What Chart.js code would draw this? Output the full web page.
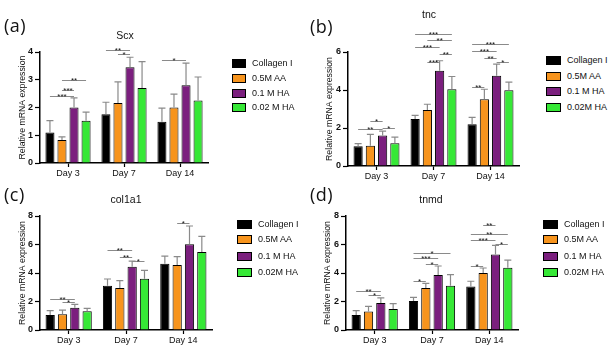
<!DOCTYPE html>
<html>
<head>
<meta charset="utf-8">
<script src="https://cdn.jsdelivr.net/npm/chart.js@4.4.1/dist/chart.umd.min.js"></script>
<style>
  body { margin: 0; width: 616px; height: 352px; background: #fff; position: relative; overflow: hidden; font-family: 'Liberation Sans', Arial, sans-serif; }
  canvas { position: absolute; }
  .lbl { position: absolute; font-family: 'Open Sans', sans-serif; font-size: 18px; color: #111; letter-spacing: 0.5px; }
  .ttl { position: absolute; font-size: 10.5px; color: #111; transform: translate(-50%, -50%); white-space: nowrap; }
  .box { position: absolute; box-sizing: border-box; border: 1.5px solid #000; }
  .txt { position: absolute; font-size: 9px; color: #111; white-space: nowrap; transform: translateY(-50%); }
</style>
</head>
<body>
<script>
// categories
const days = ['Day 3', 'Day 7', 'Day 14'];
const namesA = ['Collagen I', '0.5M AA', '0.1 M HA', '0.02 M HA'];
const namesB = ['Collagen I', '0.5M AA', '0.1 M HA', '0.02M HA'];

// (a) Scx: means and SD per group (Collagen I, 0.5M AA, 0.1 M HA, 0.02 M HA)
const scxMeans = [[1.10, 1.76, 1.49], [0.83, 2.16, 2.00], [2.00, 3.45, 2.80], [1.52, 2.70, 2.25]];
const scxSD = [[0.43, 0.43, 0.49], [0.11, 0.76, 0.48], [0.35, 0.36, 0.80], [0.31, 0.95, 0.85]];
// significance: [day, from group, to group, height, stars]
const scxSig = [[0, 0, 2, 2.43, '***'], [0, 1, 2, 2.64, '***'], [0, 1, 3, 2.98, '**'],
                [1, 0, 2, 4.08, '**'], [1, 1, 2, 3.94, '*'], [2, 0, 2, 3.70, '*']];

// (b) tnc
const tncMeans = [[1.04, 2.47, 2.20], [1.06, 2.95, 3.51], [1.61, 5.01, 4.75], [1.20, 4.04, 3.99]];
const tncSD = [[0.14, 0.19, 0.36], [0.60, 0.30, 0.53], [0.23, 0.53, 0.61], [0.32, 0.67, 0.42]];
const tncSig = [[0, 1, 2, 2.36, '*'], [0, 0, 2, 1.94, '**'], [0, 2, 3, 1.98, '*'],
                [1, 0, 3, 6.97, '***'], [1, 1, 3, 6.62, '**'], [1, 0, 2, 6.25, '***'], [1, 2, 3, 5.89, '**'], [1, 1, 2, 5.50, '***'],
                [2, 0, 3, 6.42, '***'], [2, 0, 2, 6.03, '***'], [2, 1, 2, 5.68, '**'], [2, 2, 3, 5.49, '*'], [2, 0, 1, 4.15, '**']];

// (c) col1a1
const colMeans = [[1.05, 3.11, 4.65], [1.10, 2.95, 4.56], [1.57, 4.44, 6.01], [1.31, 3.60, 5.47]];
const colSD = [[0.31, 0.47, 0.54], [0.30, 0.51, 0.59], [0.23, 0.40, 1.29], [0.21, 0.59, 1.10]];
const colSig = [[0, 0, 2, 2.20, '**'], [0, 1, 2, 1.96, '*'],
                [1, 0, 2, 5.60, '**'], [1, 1, 2, 5.15, '**'], [1, 2, 3, 4.84, '*'], [2, 1, 2, 7.53, '*']];

// (d) tnmd
const tnmdMeans = [[1.05, 2.04, 3.06], [1.29, 2.95, 4.00], [1.89, 3.86, 5.29], [1.47, 3.11, 4.37]];
const tnmdSD = [[0.31, 0.25, 0.36], [0.37, 0.32, 0.35], [0.36, 0.63, 0.65], [0.38, 0.77, 0.54]];
const tnmdSig = [[0, 0, 2, 2.74, '**'], [0, 1, 2, 2.43, '*'],
                 [1, 0, 3, 5.43, '*'], [1, 0, 2, 5.08, '***'], [1, 1, 2, 4.61, '*'], [1, 0, 1, 3.42, '*'],
                 [2, 1, 2, 7.35, '**'], [2, 0, 3, 6.76, '**'], [2, 0, 2, 6.32, '***'], [2, 2, 3, 6.01, '*'], [2, 0, 1, 4.49, '*']];

const barColors = ['#000000', '#f7941d', '#7b1f7e', '#36e836'];
const fontFam = "'Liberation Sans', Arial, sans-serif";

// error bars y significance brackets
const errPlugin = {
  id: 'errs',
  afterDatasetsDraw(chart, args, opts) {
    const ctx = chart.ctx;
    const y = chart.scales.y;
    ctx.save();
    ctx.strokeStyle = '#8a8a8a';
    ctx.lineWidth = 1.2;
    opts.sd.forEach((arr, di) => {
      const meta = chart.getDatasetMeta(di);
      arr.forEach((sd, k) => {
        const el = meta.data[k];
        const top = y.getPixelForValue(chart.data.datasets[di].data[k] + sd);
        ctx.beginPath();
        ctx.moveTo(el.x, el.y);
        ctx.lineTo(el.x, top);
        ctx.moveTo(el.x - 3.5, top);
        ctx.lineTo(el.x + 3.5, top);
        ctx.stroke();
      });
    });
    ctx.font = '8px ' + fontFam;
    ctx.textAlign = 'center';
    ctx.textBaseline = 'alphabetic';
    opts.sig.forEach(([k, a, b, v, s]) => {
      const x1 = chart.getDatasetMeta(a).data[k].x;
      const x2 = chart.getDatasetMeta(b).data[k].x;
      const yy = Math.round(y.getPixelForValue(v)) + 0.5;
      ctx.strokeStyle = '#8a8a8a';
      ctx.lineWidth = 1;
      ctx.beginPath();
      ctx.moveTo(x1, yy);
      ctx.lineTo(x2, yy);
      ctx.stroke();
      ctx.fillStyle = '#111';
      ctx.fillText(s, (x1 + x2) / 2, yy + 2.5);
    });
    ctx.restore();
  }
};

function makeChart(p) {
  const canvas = document.createElement('canvas');
  canvas.width = p.w;
  canvas.height = p.h;
  canvas.style.left = p.left + 'px';
  canvas.style.top = p.top + 'px';
  document.body.appendChild(canvas);

  new Chart(canvas, {
    type: 'bar',
    data: {
      labels: days,
      datasets: p.means.map((m, i) => ({
        label: p.names[i],
        data: m,
        backgroundColor: barColors[i],
        borderColor: '#000',
        borderWidth: 1,
        categoryPercentage: 0.86,
        barPercentage: 0.75
      }))
    },
    options: {
      responsive: false,
      animation: false,
      layout: { padding: { left: p.padL, top: p.padT, right: p.padR, bottom: 0 } },
      plugins: {
        legend: { display: false },
        tooltip: { enabled: false },
        errs: { sd: p.sd, sig: p.sig }
      },
      scales: {
        x: {
          grid: { drawOnChartArea: false, offset: false, tickLength: 4, color: '#000', tickWidth: 1.2 },
          border: { color: '#000', width: 1.5 },
          ticks: { color: '#111', font: { size: 9, family: fontFam }, padding: 1, maxRotation: 0 },
          afterFit(s) { s.height = 22; }
        },
        y: {
          min: 0,
          max: p.max,
          ticks: { stepSize: p.step, color: '#111', font: { size: 9, family: fontFam, weight: 'bold' }, padding: 2 },
          grid: { drawOnChartArea: false, tickLength: 5, color: '#000', tickWidth: 1.2 },
          border: { color: '#000', width: 1.5 },
          title: { display: true, text: 'Relative mRNA expression', color: '#111', font: { size: 8.7, family: fontFam }, padding: { top: 4, bottom: 0 } },
          afterFit(s) { s.width = p.axW; }
        }
      }
    },
    plugins: [errPlugin]
  });

  // panel letter
  const l = document.createElement('div');
  l.className = 'lbl';
  l.textContent = p.letter;
  l.style.left = p.lx + 'px';
  l.style.top = p.ly + 'px';
  document.body.appendChild(l);

  // title
  const t = document.createElement('div');
  t.className = 'ttl';
  t.textContent = p.title;
  t.style.left = p.tx + 'px';
  t.style.top = p.ty + 'px';
  document.body.appendChild(t);

  // legend
  p.names.forEach((n, i) => {
    const b = document.createElement('div');
    b.className = 'box';
    b.style.left = p.legX + 'px';
    b.style.top = (p.legY[i] - 4.5) + 'px';
    b.style.width = p.boxW + 'px';
    b.style.height = '9px';
    b.style.background = barColors[i];
    document.body.appendChild(b);
    const tx = document.createElement('div');
    tx.className = 'txt';
    tx.textContent = n;
    tx.style.left = (p.legX + p.boxW + 6) + 'px';
    tx.style.top = p.legY[i] + 'px';
    document.body.appendChild(tx);
  });
}

makeChart({ left: 0, top: 0, w: 215, h: 185, padL: 13, axW: 27, padT: 52, padR: 7, max: 4, step: 1,
  means: scxMeans, sd: scxSD, sig: scxSig, names: namesA,
  letter: '(a)', lx: 4, ly: 13, title: 'Scx', tx: 125, ty: 35,
  legX: 232, boxW: 14, legY: [63, 78, 93, 107] });

makeChart({ left: 306, top: 0, w: 215, h: 188, padL: 14, axW: 28, padT: 52, padR: 2, max: 6, step: 2,
  means: tncMeans, sd: tncSD, sig: tncSig, names: namesB,
  letter: '(b)', lx: 310, ly: 14, title: 'tnc', tx: 429, ty: 14,
  legX: 546, boxW: 15, legY: [60, 76, 91, 107] });

makeChart({ left: 0, top: 176, w: 215, h: 176, padL: 13, axW: 27, padT: 40, padR: 3, max: 8, step: 2,
  means: colMeans, sd: colSD, sig: colSig, names: namesB,
  letter: '(c)', lx: 4, ly: 182, title: 'col1a1', tx: 126, ty: 199,
  legX: 237, boxW: 15, legY: [224, 239, 256, 272] });

makeChart({ left: 306, top: 176, w: 215, h: 176, padL: 12, axW: 28, padT: 40, padR: 3, max: 8, step: 2,
  means: tnmdMeans, sd: tnmdSD, sig: tnmdSig, names: namesB,
  letter: '(d)', lx: 310, ly: 182, title: 'tnmd', tx: 431, ty: 199,
  legX: 543, boxW: 15, legY: [224, 239, 256, 272] });
</script>
</body>
</html>
